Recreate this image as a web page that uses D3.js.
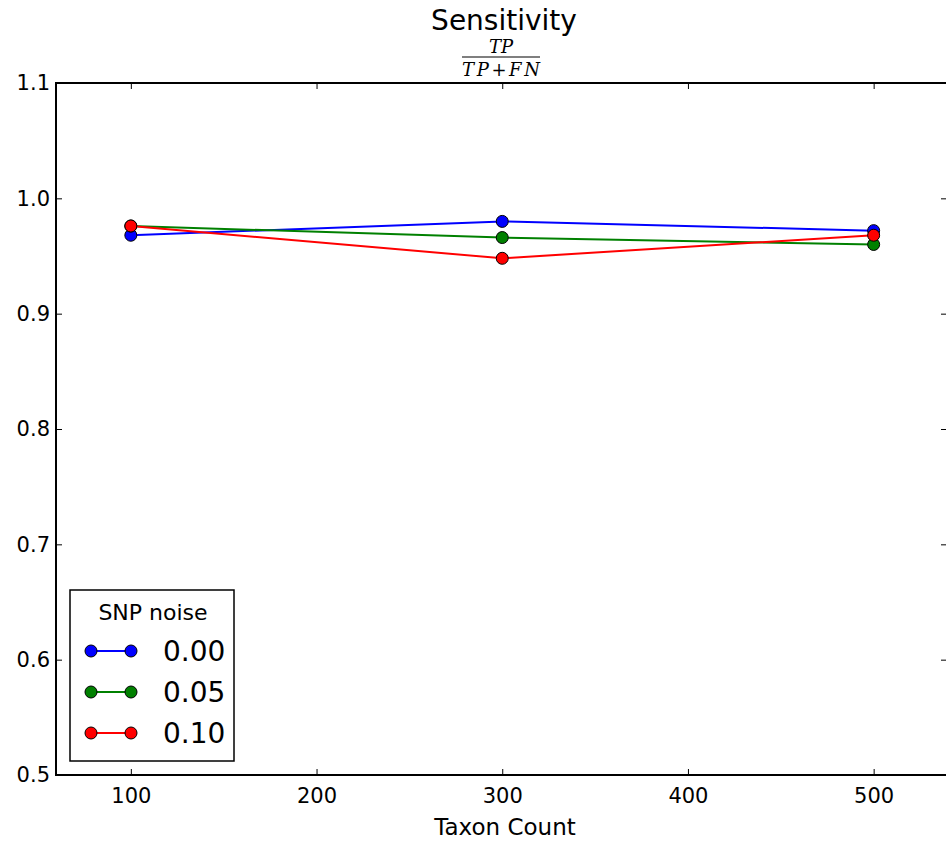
<html>
    <head>
        <title>Sensitivity</title>
        <script type="text/javascript" src="https://d3js.org/d3.v7.min.js"></script>
        <style>
            body{ margin:0; background:white; }
            svg{ font-family: "DejaVu Sans", sans-serif; }
        </style>
    </head>
    <body>
        <svg height="845" width="946"></svg>
        <script>
            var taxonCounts = [100, 300, 500];
            var noiseLevels = ["0.00", "0.05", "0.10"];
            var noiseColors = ["#0000ff", "#008000", "#ff0000"];
            var sens000 = [0.968, 0.980, 0.972];
            var sens005 = [0.976, 0.966, 0.960];
            var sens010 = [0.976, 0.948, 0.968];
            var xTicks = [100, 200, 300, 400, 500];
            var yTicks = [0.5, 0.6, 0.7, 0.8, 0.9, 1.0, 1.1];

            var series = [sens000, sens005, sens010];

            var svg = d3.select("svg"),
                pLeft = 56, pRight = 947, pTop = 83, pBottom = 775;

            var xScale = d3.scaleLinear().domain([59.7, 539.5]).range([pLeft, pRight]),
                yScale = d3.scaleLinear().domain([0.5, 1.1]).range([pBottom, pTop]);

            // axes (matplotlib classic: ticks inside, mirrored)
            svg.append("g")
                .attr("transform", "translate(0," + pBottom + ")")
                .call(d3.axisBottom(xScale).tickValues(xTicks).tickSizeInner(-6).tickSizeOuter(0).tickPadding(13).tickFormat(d3.format("d")))
                .call(function(g){ g.select(".domain").remove(); });
            svg.append("g")
                .attr("transform", "translate(0," + pTop + ")")
                .call(d3.axisTop(xScale).tickValues(xTicks).tickSizeInner(-6).tickSizeOuter(0).tickFormat(""))
                .call(function(g){ g.select(".domain").remove(); });
            svg.append("g")
                .attr("transform", "translate(" + pLeft + ",0)")
                .call(d3.axisLeft(yScale).tickValues(yTicks).tickSizeInner(-6).tickSizeOuter(0).tickPadding(6).tickFormat(d3.format(".1f")))
                .call(function(g){ g.select(".domain").remove(); });
            svg.append("g")
                .attr("transform", "translate(" + pRight + ",0)")
                .call(d3.axisRight(yScale).tickValues(yTicks).tickSizeInner(-6).tickSizeOuter(0).tickFormat(""))
                .call(function(g){ g.select(".domain").remove(); });

            svg.selectAll(".tick line").attr("stroke", "black").attr("stroke-width", 1);
            svg.selectAll(".tick text").attr("font-size", 21).attr("fill", "black")
                .attr("font-family", "DejaVu Sans");

            svg.append("rect")
                .attr("x", pLeft).attr("y", pTop)
                .attr("width", pRight - pLeft).attr("height", pBottom - pTop)
                .attr("fill", "none").attr("stroke", "black").attr("stroke-width", 2);

            // lines and markers
            var line = d3.line()
                .x(function(d, i){ return xScale(taxonCounts[i]); })
                .y(function(d){ return yScale(d); });

            series.forEach(function(s, k){
                svg.append("path")
                    .datum(s)
                    .attr("d", line)
                    .attr("fill", "none")
                    .attr("stroke", noiseColors[k])
                    .attr("stroke-width", 2);
                svg.selectAll(".pt" + k)
                    .data(s)
                    .enter()
                    .append("circle")
                    .attr("cx", function(d, i){ return xScale(taxonCounts[i]); })
                    .attr("cy", function(d){ return yScale(d); })
                    .attr("r", 6)
                    .attr("fill", noiseColors[k])
                    .attr("stroke", "black")
                    .attr("stroke-width", 1);
            });

            // titles
            svg.append("text")
                .attr("x", 504).attr("y", 30)
                .attr("text-anchor", "middle")
                .attr("font-size", 28)
                .text("Sensitivity");
            svg.append("text")
                .attr("x", 501).attr("y", 53)
                .attr("text-anchor", "middle")
                .attr("font-family", "DejaVu Serif")
                .attr("font-style", "italic")
                .attr("font-size", 18)
                .text("TP");
            svg.append("line")
                .attr("x1", 462).attr("x2", 540)
                .attr("y1", 57).attr("y2", 57)
                .attr("stroke", "black").attr("stroke-width", 1.2);
            svg.append("text")
                .attr("x", 501).attr("y", 76)
                .attr("text-anchor", "middle")
                .attr("font-family", "DejaVu Serif")
                .attr("font-style", "italic")
                .attr("font-size", 18)
                .attr("textLength", 78)
                .text("TP+FN");
            svg.append("text")
                .attr("x", 505).attr("y", 835)
                .attr("text-anchor", "middle")
                .attr("font-size", 23)
                .text("Taxon Count");

            // legend
            var lg = svg.append("g");
            lg.append("rect")
                .attr("x", 70).attr("y", 590)
                .attr("width", 164).attr("height", 171)
                .attr("fill", "white").attr("stroke", "black").attr("stroke-width", 1.5);
            lg.append("text")
                .attr("x", 153).attr("y", 620)
                .attr("text-anchor", "middle")
                .attr("font-size", 22)
                .text("SNP noise");
            noiseLevels.forEach(function(n, k){
                var yy = 651 + k * 41;
                lg.append("line")
                    .attr("x1", 91).attr("x2", 131)
                    .attr("y1", yy).attr("y2", yy)
                    .attr("stroke", noiseColors[k]).attr("stroke-width", 2);
                [91, 131].forEach(function(cx){
                    lg.append("circle")
                        .attr("cx", cx).attr("cy", yy).attr("r", 6)
                        .attr("fill", noiseColors[k])
                        .attr("stroke", "black").attr("stroke-width", 1);
                });
                lg.append("text")
                    .attr("x", 163).attr("y", yy + 10)
                    .attr("font-size", 28)
                    .text(n);
            });
        </script>
    </body>
</html>
